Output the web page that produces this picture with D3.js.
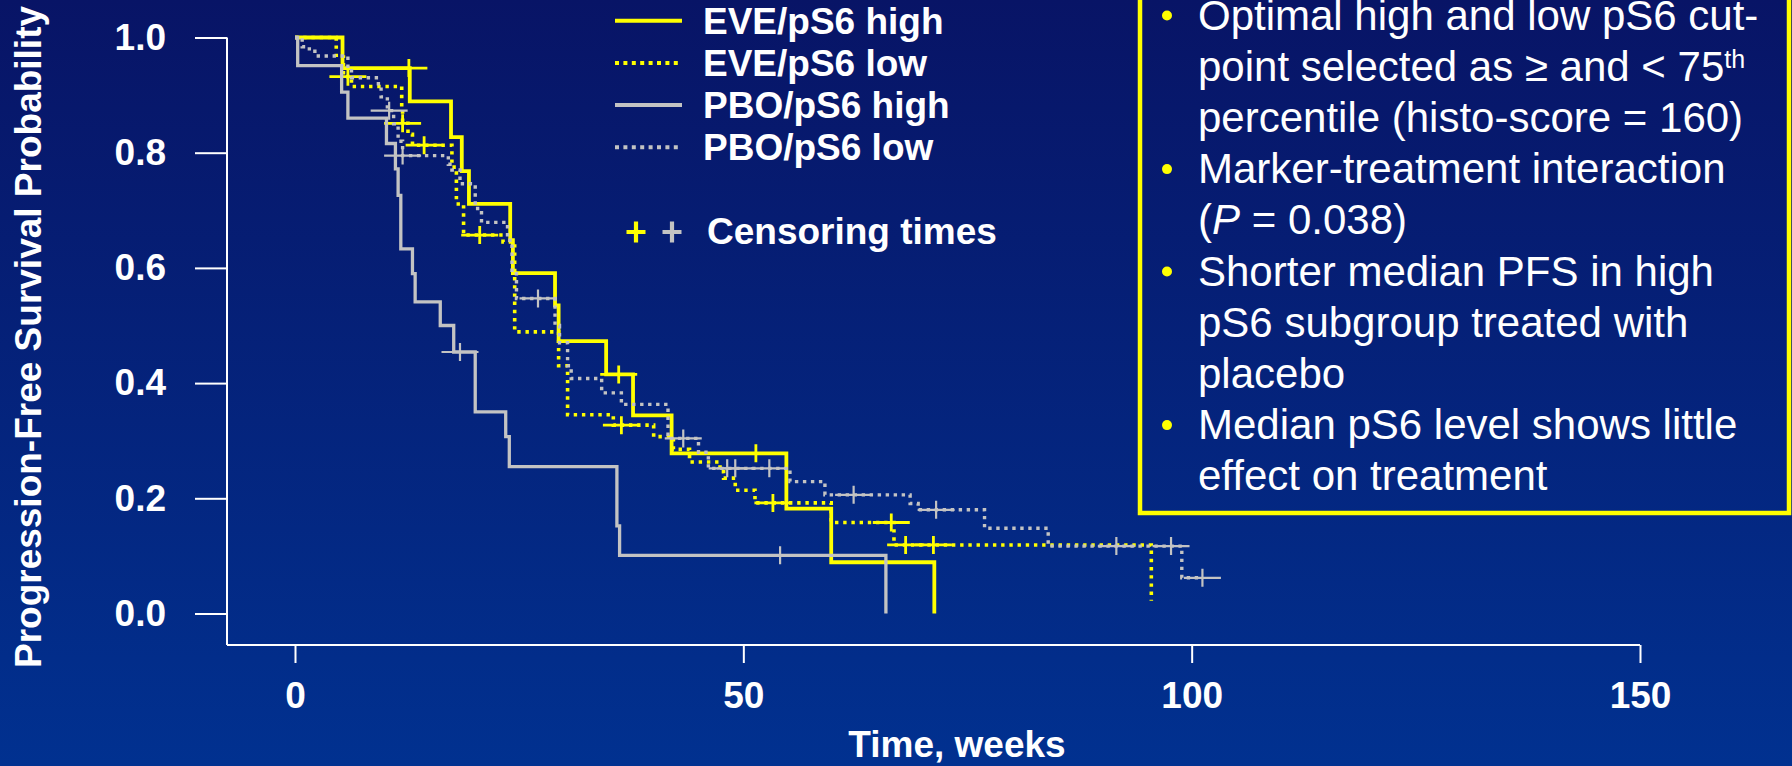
<!DOCTYPE html>
<html>
<head>
<meta charset="utf-8">
<script src="https://cdn.jsdelivr.net/npm/d3@7"></script>
<style>
  html, body { margin: 0; padding: 0; background: #02246f; }
  svg { display: block; }
  text { font-family: Arial, "Liberation Sans", sans-serif; }
</style>
</head>
<body>
<svg id="chart" width="1792" height="766"></svg>
<script>
// Kaplan-Meier PFS by arm and pS6 level.
// Step times (weeks) with survival after each step, and censoring times.

const eveHighTimes  = [0, 5.3, 12.8, 17.4, 18.6, 19.4, 24.0, 24.3, 29.0, 29.4, 34.7, 37.7, 42.0, 54.8, 59.8, 71.3];
const eveHighSurv   = [1, 0.947, 0.889, 0.827, 0.768, 0.711, 0.648, 0.591, 0.535, 0.473, 0.415, 0.344, 0.278, 0.182, 0.089, 0];
const eveHighCensor = [12.7, 36.1, 51.4];

const eveLowTimes  = [0, 4.6, 5.4, 6.3, 11.9, 12.0, 12.6, 13.1, 17.5, 18.0, 18.8, 23.2, 24.5, 29.4, 30.4, 35.5, 40.0, 42.2, 44.0, 47.4, 47.8, 49.1, 51.3, 59.8, 66.8, 95.5];
const eveLowSurv   = [1, 0.966, 0.932, 0.915, 0.879, 0.851, 0.832, 0.813, 0.775, 0.711, 0.657, 0.645, 0.489, 0.43, 0.345, 0.327, 0.307, 0.285, 0.263, 0.246, 0.235, 0.214, 0.192, 0.158, 0.119, 0.022];
const eveLowCensor = [5.9, 12.0, 14.4, 20.6, 36.4, 53.3, 66.5, 68.1, 71.2];

const pboHighTimes  = [0, 0.3, 5.2, 5.9, 10.2, 11.2, 11.5, 11.8, 13.1, 13.4, 16.2, 17.7, 20.1, 23.5, 23.9, 35.9, 36.2, 65.9];
const pboHighSurv   = [1, 0.951, 0.905, 0.860, 0.816, 0.772, 0.726, 0.633, 0.59, 0.541, 0.50, 0.454, 0.35, 0.307, 0.255, 0.152, 0.101, 0];
const pboHighCensor = [18.4, 54.1];

const pboLowTimes  = [0, 0.8, 1.6, 2.6, 5.9, 6.3, 9.3, 9.6, 10.3, 11.0, 11.5, 12.0, 17.1, 17.5, 18.4, 20.1, 20.8, 23.7, 24.2, 24.7, 29.0, 29.5, 30.4, 30.8, 34.2, 36.4, 41.6, 45.0, 46.1, 55.2, 59.1, 68.6, 69.5, 76.9, 84.0, 98.9];
const pboLowSurv   = [1, 0.984, 0.976, 0.968, 0.95, 0.930, 0.914, 0.897, 0.873, 0.85, 0.82, 0.795, 0.78, 0.77, 0.746, 0.703, 0.679, 0.648, 0.593, 0.547, 0.50, 0.47, 0.43, 0.408, 0.383, 0.363, 0.304, 0.28, 0.252, 0.229, 0.206, 0.191, 0.180, 0.148, 0.117, 0.062];
const pboLowCensor = [10.5, 12.0, 27.1, 43.3, 48.2, 49.1, 52.9, 62.3, 71.5, 91.6, 97.7, 101.2];

const xTicks = [0, 50, 100, 150];
const yTicks = [0, 0.2, 0.4, 0.6, 0.8, 1.0];

const bulletItems = [
    ["Optimal high and low pS6 cut-", "point selected as \u2265 and < 75^th", "percentile (histo-score = 160)"],
    ["Marker-treatment interaction", "(_P_ = 0.038)"],
    ["Shorter median PFS in high", "pS6 subgroup treated with", "placebo"],
    ["Median pS6 level shows little", "effect on treatment"]
];

const YELLOW = "#ffff00", GREY = "#c3c3c3";

const series = [
    {name: "EVE/pS6 high", times: eveHighTimes, surv: eveHighSurv, censor: eveHighCensor, color: YELLOW, dash: null, width: 3.8, crossWidth: 2.8},
    {name: "EVE/pS6 low", times: eveLowTimes, surv: eveLowSurv, censor: eveLowCensor, color: YELLOW, dash: "3.4,4.8", width: 3.6, crossWidth: 2.8},
    {name: "PBO/pS6 high", times: pboHighTimes, surv: pboHighSurv, censor: pboHighCensor, color: GREY, dash: null, width: 3.3, crossWidth: 2.2},
    {name: "PBO/pS6 low", times: pboLowTimes, surv: pboLowSurv, censor: pboLowCensor, color: GREY, dash: "3.4,4.6", width: 3.4, crossWidth: 2.2}
];
const drawOrder = [1, 0, 2, 3];

const W = 1792, H = 766;
const svg = d3.select("#chart");

// background gradient
let grad = svg.append("defs").append("linearGradient")
    .attr("id", "bg").attr("x1", 0).attr("y1", 0).attr("x2", 0).attr("y2", 1);
grad.append("stop").attr("offset", "0%").attr("stop-color", "#081466");
grad.append("stop").attr("offset", "100%").attr("stop-color", "#013190");
svg.append("rect").attr("width", W).attr("height", H).attr("fill", "url(#bg)");

let x = d3.scaleLinear().domain([0, 150]).range([295, 1640]);
let y = d3.scaleLinear().domain([0, 1]).range([613.5, 37.5]);

const axisX0 = 227, axisY0 = 645;

// --- axes ---
let yAxis = svg.append("g")
    .attr("transform", `translate(${axisX0},0)`)
    .call(d3.axisLeft(y).tickValues(yTicks).tickSize(32).tickPadding(29).tickFormat(d3.format(".1f")));
yAxis.select(".domain").remove();
yAxis.append("line").attr("x1", 0).attr("x2", 0).attr("y1", y(1)).attr("y2", axisY0);

let xAxis = svg.append("g")
    .attr("transform", `translate(0,${axisY0})`)
    .call(d3.axisBottom(x).tickValues(xTicks).tickSize(18).tickPadding(18.5));
xAxis.select(".domain").remove();
xAxis.append("line").attr("x1", axisX0).attr("x2", x(150)).attr("y1", 0).attr("y2", 0);

svg.selectAll(".tick line, g > line").attr("stroke", "#ffffff").attr("stroke-width", 2);
svg.selectAll(".tick text")
    .attr("fill", "#ffffff")
    .style("font-size", "37px")
    .style("font-weight", "bold")
    .style("font-family", "Arial, 'Liberation Sans', sans-serif");

svg.append("text")
    .attr("transform", "translate(41,337) rotate(-90)")
    .attr("text-anchor", "middle")
    .attr("fill", "#ffffff")
    .style("font-size", "37px").style("font-weight", "bold")
    .text("Progression-Free Survival Probability");

svg.append("text")
    .attr("x", 957).attr("y", 757)
    .attr("text-anchor", "middle")
    .attr("fill", "#ffffff")
    .style("font-size", "37px").style("font-weight", "bold")
    .text("Time, weeks");

// --- curves ---
let stepLine = d3.line()
    .x(d => x(d[0]))
    .y(d => y(d[1]))
    .curve(d3.curveStepAfter);

function survAt(s, t) {
    return s.surv[Math.max(0, d3.bisectRight(s.times, t) - 1)];
}

let curves = svg.append("g").attr("class", "curves");
drawOrder.forEach(i => {
    let s = series[i];
    let pts = s.times.map((t, j) => [t, s.surv[j]]);
    let end = d3.max(s.censor);
    if (end > s.times[s.times.length - 1]) pts.push([end, s.surv[s.surv.length - 1]]);

    curves.append("path")
        .attr("d", stepLine(pts))
        .attr("fill", "none")
        .attr("stroke", s.color)
        .attr("stroke-width", s.width)
        .attr("stroke-dasharray", s.dash)
        .attr("stroke-linejoin", "miter");

    curves.append("g").selectAll("path")
        .data(s.censor)
        .enter().append("path")
        .attr("d", c => {
            let cx = x(c), cy = y(survAt(s, c));
            return `M${cx - 18.5},${cy}H${cx + 18.5}M${cx},${cy - 9}V${cy + 9}`;
        })
        .attr("stroke", s.color)
        .attr("stroke-width", s.crossWidth)
        .attr("fill", "none");
});

// --- legend ---
let legend = svg.append("g").attr("class", "legend");
let rows = legend.selectAll("g")
    .data(series)
    .enter().append("g")
    .attr("transform", (d, i) => `translate(0,${20.7 + i * 42.2})`);
rows.append("line")
    .attr("x1", 615).attr("x2", 682)
    .attr("stroke", d => d.color)
    .attr("stroke-width", 4)
    .attr("stroke-dasharray", d => d.dash ? "4,4.4" : null);
rows.append("text")
    .attr("x", 703).attr("y", 13)
    .attr("fill", "#ffffff")
    .style("font-size", "37px").style("font-weight", "bold")
    .text(d => d.name);

let cens = legend.append("g").attr("transform", "translate(0,232)");
[[636, YELLOW], [672, GREY]].forEach(([cx, col]) => {
    cens.append("path")
        .attr("d", `M${cx - 9.5},0H${cx + 9.5}M${cx},-10.5V10.5`)
        .attr("stroke", col).attr("stroke-width", 4.2);
});
cens.append("text")
    .attr("x", 707).attr("y", 12)
    .attr("fill", "#ffffff")
    .style("font-size", "37px").style("font-weight", "bold")
    .text("Censoring times");

// --- notes box ---
let box = svg.append("g").attr("class", "notes");
box.append("rect")
    .attr("x", 1140).attr("y", -20)
    .attr("width", 649).attr("height", 533)
    .attr("fill", "none")
    .attr("stroke", YELLOW)
    .attr("stroke-width", 4.5);

let lineNo = 0;
bulletItems.forEach(item => {
    item.forEach((ln, k) => {
        let base = 29.5 + lineNo * 51.2;
        if (k === 0) {
            box.append("circle").attr("cx", 1167).attr("cy", base - 14).attr("r", 5).attr("fill", YELLOW);
        }
        let t = box.append("text")
            .attr("x", 1198).attr("y", base)
            .attr("fill", "#ffffff")
            .style("font-size", "42px");
        // ^xx = superscript, _xx_ = italic
        let parts = ln.split(/(\^\w+|_\w+_)/).filter(p => p.length);
        parts.forEach(p => {
            if (p[0] === "^") {
                t.append("tspan").attr("dy", -13).style("font-size", "25px").text(p.slice(1));
                t.append("tspan").attr("dy", 13).text("");
            } else if (p[0] === "_") {
                t.append("tspan").style("font-style", "italic").text(p.slice(1, -1));
            } else {
                t.append("tspan").text(p);
            }
        });
        lineNo++;
    });
});
</script>
</body>
</html>
